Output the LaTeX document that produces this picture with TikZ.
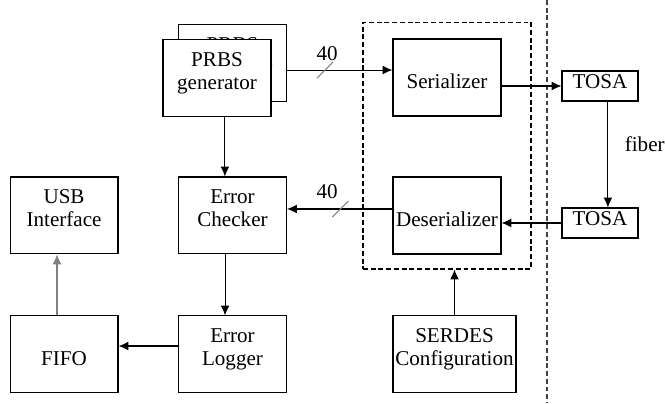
\documentclass[tikz,border=0pt]{standalone}
\usepackage{fontspec}
\setmainfont{Liberation Serif}
\usepackage{tikz}
\usetikzlibrary{arrows.meta, calc}
\tikzstyle{block} = [rectangle,
minimum width=2.16cm,
minimum height=1.54cm,
inner xsep=0pt,
text centered, align=center,
text height=13pt, text depth=0pt,
draw=black, line width=0.6pt,
fill=white]
\tikzstyle{small} = [rectangle,
minimum width=1.52cm,
minimum height=0.6cm,
text centered,
text height=3.4pt, text depth=0pt,
draw=black, line width=0.6pt]
\tikzstyle{frame} = [rectangle,
minimum width=3.36cm,
minimum height=4.94cm,
draw=black, line width=0.6pt,
dash pattern=on 2.8pt off 1.6pt]
\tikzstyle{divider} = [draw=black!75, line width=0.8pt, dash pattern=on 2.8pt off 1.6pt]
\tikzstyle{cut} = [draw=gray, line width=0.6pt]
\tikzstyle{arrow} = [line width=0.6pt,->,>={Latex[length=5.6pt,width=5pt]}]

\begin{document}
\begin{tikzpicture}[x=0.02cm, y=-0.02cm, node distance=2.78cm, font=\fontsize{12}{13.2}\selectfont]
            \useasboundingbox (0,0) rectangle (665,403);
            \draw [divider] (547,0) -- (547,403);

            \node (prbsback) [block] at (232.5,63) {PRBS\\generator};
            \node (prbs) [block] at (217,78) {PRBS\\generator};
            \node (chk) [block, below of=prbsback, node distance=3.05cm] {Error\\Checker};
            \node (log) [block, below of=chk] {Error\\Logger};
            \node (usb) [block, left of=chk, node distance=3.37cm] {USB\\Interface};
            \node (fifo) [block, below of=usb] {FIFO};
            \node (ser) [block] at (447,77.5) {Serializer};
            \node (des) [block, below of=ser, node distance=2.76cm] {Deserializer};
            \node (serdes) [block, below of=des, xshift=0.15cm, minimum width=2.46cm] {SERDES\\Configuration};
            \node (serdesbox) [frame] at (447,145.5) {};
            \node (tosa1) [small] at (600,86) {TOSA};
            \node (tosa2) [small, below of=tosa1, node distance=2.74cm] {TOSA};

            \draw [arrow] ([yshift=-4pt]prbsback.east) -- coordinate[pos=0.36] (cut1) node[pos=0.38, above=1.5pt]{40} ([yshift=-4pt]prbsback.east -| ser.west);
            \draw [cut] ($(cut1)+(-8,8)$) -- ($(cut1)+(8,-8)$);
            \draw [arrow] (ser.east |- tosa1.west) -- (tosa1.west);
            \draw [arrow] ([xshift=4.5pt]tosa1.south) -- node[pos=0.4, right=6pt]{fiber} ([xshift=4.5pt]tosa1.south |- tosa2.north);
            \draw [arrow] (tosa2.west) -- (tosa2.west -| des.east);
            \draw [arrow] ([yshift=3.7pt]des.west) -- coordinate[pos=0.495] (cut2) node[pos=0.62, above=2pt]{40} ([yshift=3.7pt]des.west -| chk.east);
            \draw [cut] ($(cut2)+(-8,8)$) -- ($(cut2)+(8,-8)$);
            \draw [arrow] ([xshift=4.5pt]prbs.south) -- ([xshift=4.5pt]prbs.south |- chk.north);
            \draw [arrow] ([xshift=-4.25pt]chk.south) -- ([xshift=-4.25pt]chk.south |- log.north);
            \draw [arrow] ([yshift=4.8pt]log.west) -- ([yshift=4.8pt]log.west -| fifo.east);
            \draw [arrow, draw=gray] ([xshift=-4pt]fifo.north) -- ([xshift=-4pt]fifo.north |- usb.south);
            \draw [arrow] (serdes.north) -- (serdes.north |- serdesbox.south);
        \end{tikzpicture}
\end{document}
